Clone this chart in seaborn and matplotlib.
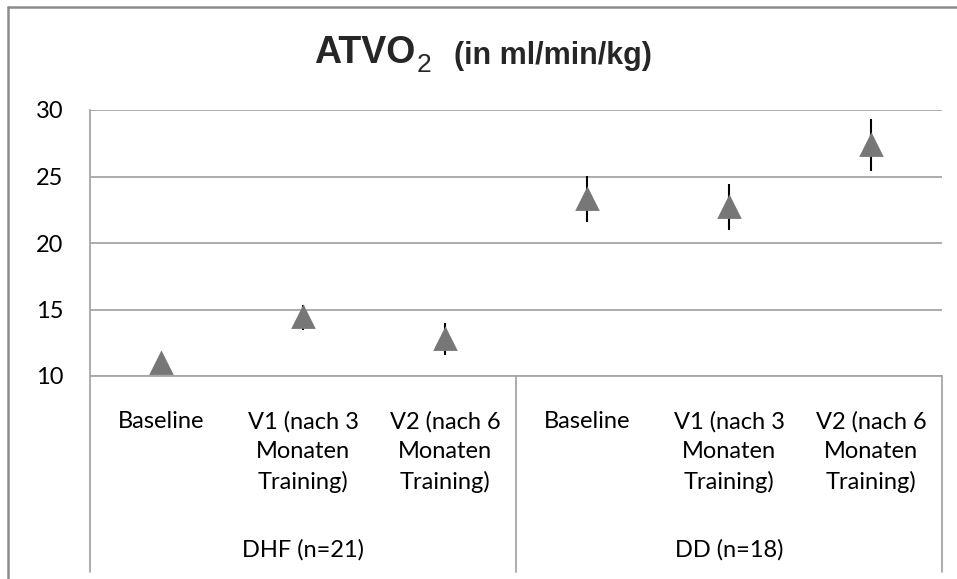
import matplotlib
matplotlib.use('Agg')
import matplotlib.pyplot as plt
import seaborn as sns
import pandas as pd
import numpy as np
from matplotlib.transforms import blended_transform_factory
from matplotlib.lines import Line2D

# ---- data ----
groups = ["DHF (n=21)", "DHF (n=21)", "DHF (n=21)", "DD (n=18)", "DD (n=18)", "DD (n=18)"]
timepoints = ["Baseline", "V1 (nach 3\nMonaten\nTraining)", "V2 (nach 6\nMonaten\nTraining)",
              "Baseline", "V1 (nach 3\nMonaten\nTraining)", "V2 (nach 6\nMonaten\nTraining)"]
means = [11.0, 14.4, 12.8, 23.3, 22.7, 27.4]
errors = [0.3, 0.95, 1.2, 1.75, 1.75, 1.95]
group_labels = ["DHF (n=21)", "DD (n=18)"]
yticks = [10, 15, 20, 25, 30]

sns.set_theme(style='white')
plt.rcParams['font.family'] = ['Lato', 'DejaVu Sans']

keys = [f"{g}|{t}" for g, t in zip(groups, timepoints)]
df = pd.DataFrame({'key': keys, 'group': groups, 'time': timepoints,
                   'mean': means, 'err': errors})

W, H = 957, 579
fig = plt.figure(figsize=(W / 100, H / 100), dpi=100)
ax = fig.add_axes([90 / W, 1 - 376 / H, 852 / W, 266 / H])

grid_c = '#A6A6A6'

ax.errorbar(x=np.arange(len(df)), y=df['mean'], yerr=df['err'], fmt='none',
            ecolor='black', elinewidth=1.5, capsize=0, zorder=2)
sns.pointplot(data=df, x='key', y='mean', order=keys, errorbar=None,
              marker='^', markersize=14, linestyle='none', color='#777777', ax=ax)
for ln in ax.lines:
    if ln.get_marker() == '^':
        ln.set_zorder(4)
        ln.set_markeredgecolor('#777777')

ax.set_ylim(10, 30)
ax.set_xlim(-0.5, 5.5)
ax.set_yticks(yticks)
ax.set_yticklabels([str(v) for v in yticks])
ax.set_xticks(np.arange(len(df)))
ax.set_xticklabels(df['time'], linespacing=1.5)
ax.set_xlabel('')
ax.set_ylabel('')
ax.yaxis.grid(True, color=grid_c, lw=1.3)
ax.set_axisbelow(True)
ax.tick_params(axis='y', length=0, pad=19, labelsize=17, labelcolor='black')
ax.tick_params(axis='x', length=0, pad=25, labelsize=17, labelcolor='black')
for s in ['top', 'right']:
    ax.spines[s].set_visible(False)
for s in ['left', 'bottom']:
    ax.spines[s].set_color(grid_c)
    ax.spines[s].set_linewidth(1.3)

trans = blended_transform_factory(ax.transData, ax.transAxes)
bottom = -(572 - 376) / 266
for x in [-0.5, 2.5, 5.5]:
    ax.add_line(Line2D([x, x], [0, bottom], transform=trans, clip_on=False,
                       color=grid_c, lw=1.3))
for i, g in enumerate(group_labels):
    ax.text(1 + 3 * i, -(557 - 376) / 266, g, transform=trans, ha='center',
            va='baseline', fontsize=17, color='black')

# outer frame
frame_c = '#8C8C8C'
fig.add_artist(Line2D([8 / W, 8 / W], [0, 1 - 7 / H], transform=fig.transFigure, color=frame_c, lw=1.8))
fig.add_artist(Line2D([8 / W, 1], [1 - 7 / H, 1 - 7 / H], transform=fig.transFigure, color=frame_c, lw=1.8))

# title
tf = ['Liberation Sans', 'DejaVu Sans']
fig.text(314 / W, 1 - 63 / H, 'ATVO', fontsize=27, fontweight='bold', family=tf,
         ha='left', va='baseline')
fig.text(417 / W, 1 - 72 / H, '2', fontsize=19, family=tf, ha='left', va='baseline')
fig.text(454 / W, 1 - 64 / H, '(in ml/min/kg)', fontsize=22, fontweight='bold', family=tf,
         ha='left', va='baseline')

fig.savefig('out.png', dpi=100)
